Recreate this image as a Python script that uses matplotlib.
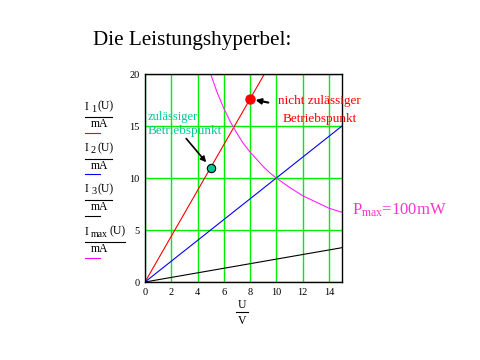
"""Leistungshyperbel: Kennlinien mit maximaler Leistung."""
import matplotlib
matplotlib.use("Agg")
import matplotlib.pyplot as plt

plt.rcParams["font.family"] = ["Liberation Serif", "DejaVu Serif"]
plt.rcParams["mathtext.fontset"] = "custom"
plt.rcParams["mathtext.rm"] = "Liberation Serif"
plt.rcParams["mathtext.it"] = "Liberation Serif"

# data
u_line = [0, 15]
i1 = [0, 33]      # red line
i2 = [0, 15]      # blue line
i3 = [0, 3.3]     # black line
u_hyp = [5, 5.5, 6, 6.5, 7, 7.5, 8, 8.5, 9, 9.5, 10, 11, 12, 13, 14, 15]
i_max = [20, 18.2, 16.7, 15.4, 14.3, 13.3, 12.5, 11.8, 11.1, 10.5, 10,
         9.1, 8.3, 7.7, 7.1, 6.7]
ok_point = (5, 11)
bad_point = (8, 17.6)
x_ticks = [0, 2, 4, 6, 8, 10, 12, 14]
y_ticks = [0, 5, 10, 15, 20]

W, H = 480, 360
fig = plt.figure(figsize=(4.8, 3.6), dpi=100)
fig.patch.set_facecolor("white")


def px(x, y):
    return x / W, 1 - y / H


ax = fig.add_axes([145 / W, 1 - 282 / H, 197 / W, 208 / H])
ax.plot(u_line, i1, color="#ff0000", lw=0.8)
ax.plot(u_line, i2, color="#0000ff", lw=0.8)
ax.plot(u_line, i3, color="black", lw=0.8)
ax.plot(u_hyp, i_max, color="#ff22ff", lw=0.8)
ax.plot(*bad_point, "o", color="#ff0000", ms=6.5, zorder=5)
ax.plot(*ok_point, "o", color="#00c896", mec="black", mew=0.8, ms=6, zorder=5)

ax.set_xlim(0, 15)
ax.set_ylim(0, 20)
ax.set_xticks(x_ticks)
ax.set_yticks(y_ticks)
ax.grid(True, color="#00ee00", lw=1)
ax.set_axisbelow(True)
ax.tick_params(length=0, labelsize=7.5, pad=4)
for s in ax.spines.values():
    s.set_color("black")
    s.set_linewidth(1)

# annotations
ax.annotate("", xy=ok_point, xytext=(3.0, 14.0),
            arrowprops=dict(arrowstyle="-|>", color="black", lw=1.2,
                            shrinkB=5, mutation_scale=8))
ax.annotate("", xy=bad_point, xytext=(9.6, 17.2),
            arrowprops=dict(arrowstyle="-|>", color="black", lw=1.5,
                            shrinkB=4, mutation_scale=8))
fig.text(*px(148, 117), "zulässiger", color="#00c896", fontsize=9, va="center")
fig.text(*px(148, 131), "Betriebspunkt", color="#00c896", fontsize=9.5,
         va="center")
fig.text(*px(278, 101), "nicht zulässiger", color="#ff0000", fontsize=9.5,
         va="center")
fig.text(*px(283, 119), "Betriebspunkt", color="#ff0000", fontsize=9.5,
         va="center")
fig.text(*px(352, 210), r"P$_{\mathrm{max}}$=100mW", color="#ff33cc",
         fontsize=12, va="center")

fig.text(*px(93, 41), "Die Leistungshyperbel:", fontsize=15.2, va="center")

# y label stack
subs = ["1", "2", "3", "max"]
colors = ["#ff0000", "#0000ff", "black", "#ff00ff"]
tops = [106.7, 148.3, 189.5, 231.7]
for sub, col, y in zip(subs, colors, tops):
    wide = sub == "max"
    fig.text(*px(85, y), "I", fontsize=8.5, va="center")
    fig.text(*px(91, y + 2.5), sub, fontsize=7.5 if not wide else 7, va="center")
    fig.text(*px(110 if wide else 97, y), "(U)", fontsize=8.5, va="center")
    right = 125 if wide else 112
    fig.add_artist(plt.Line2D([85 / W, right / W], [1 - (y + 10.5) / H] * 2,
                              color="black", lw=0.8))
    fig.text(*px(91, y + 17.5), "mA", fontsize=8.5, va="center")
    fig.add_artist(plt.Line2D([85 / W, 100 / W], [1 - (y + 26) / H] * 2,
                              color=col, lw=0.8))

# x label
fig.text(*px(242, 305), "U", fontsize=8.5, ha="center", va="center")
fig.add_artist(plt.Line2D([236 / W, 248 / W], [1 - 312 / H] * 2,
                          color="black", lw=0.8))
fig.text(*px(242, 321), "V", fontsize=8.5, ha="center", va="center")

fig.savefig("out.png", dpi=100)
